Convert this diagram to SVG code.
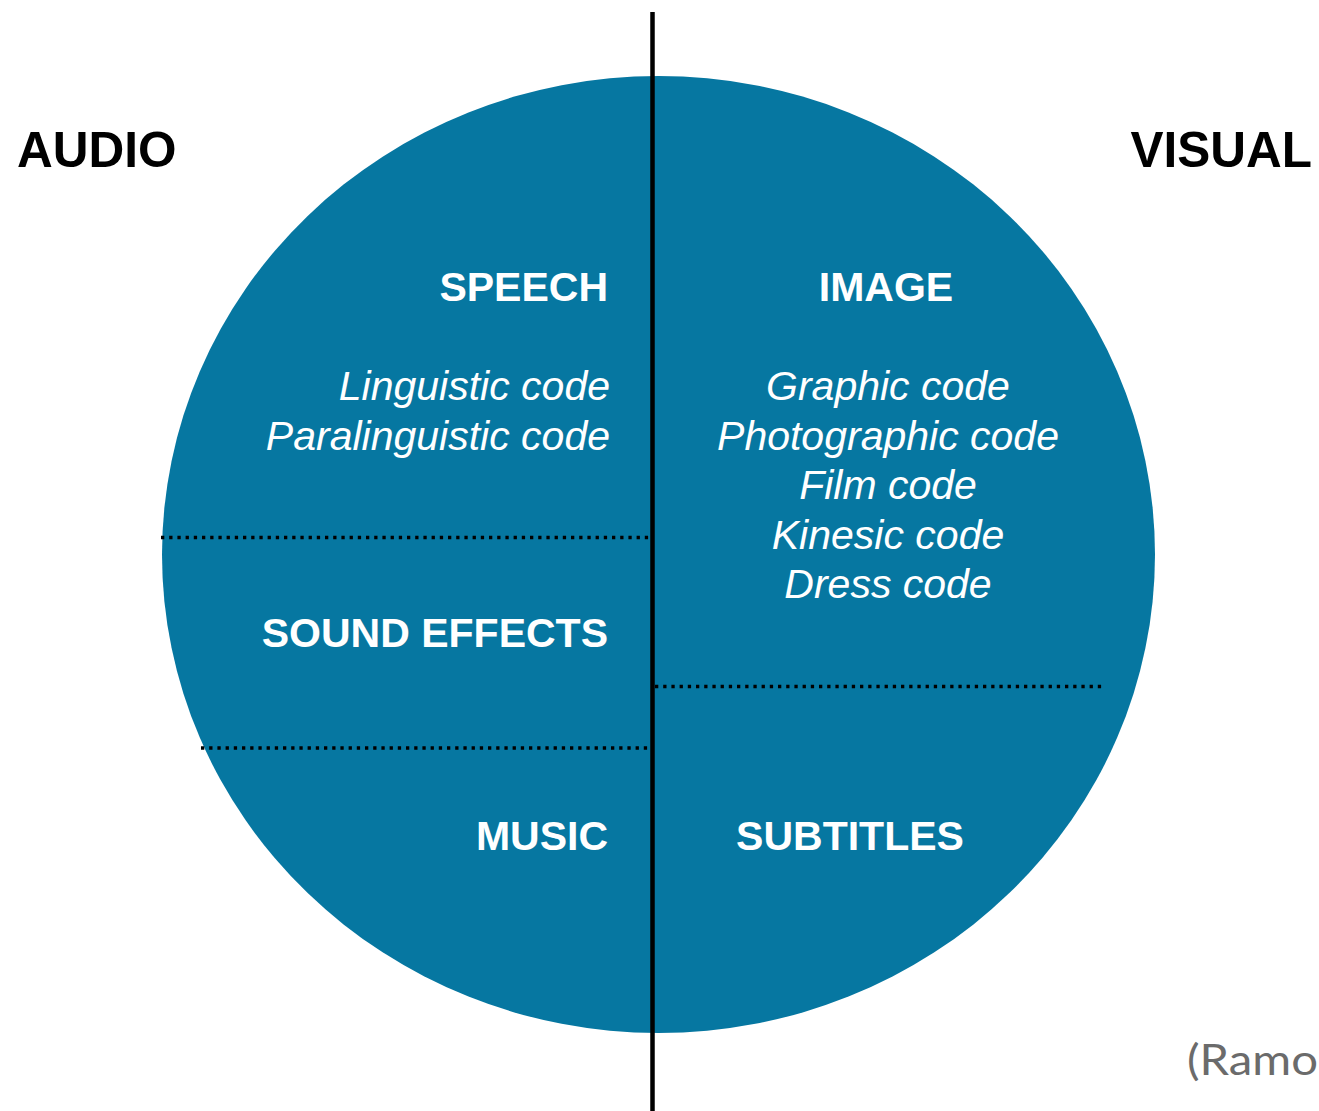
<svg xmlns="http://www.w3.org/2000/svg" width="1319" height="1111" viewBox="0 0 1319 1111">
<style>
.head{font-family:"Liberation Sans",Arial,sans-serif;font-weight:bold;font-size:49.5px;fill:#000}
.lbl{font-family:"Liberation Sans",Arial,sans-serif;font-weight:bold;font-size:41px;fill:#fff}
.code{font-family:"Liberation Sans",Arial,sans-serif;font-style:italic;font-size:41px;fill:#fff}
.dot{stroke:#000;stroke-width:3.3;stroke-dasharray:3.3 4.9;fill:none}
.src{font-family:"Lato","Liberation Sans",sans-serif;font-size:43px;fill:#6b6b6b}
</style>
<rect width="1319" height="1111" fill="#fff"/>
<g id="circle">
<ellipse cx="658.5" cy="554.5" rx="496.5" ry="478.5" fill="#0677a1"/>
</g>
<g id="connectors">
<line class="dot" x1="161" y1="537.5" x2="650" y2="537.5"/>
<line class="dot" x1="201" y1="748" x2="650" y2="748"/>
<line class="dot" x1="655" y1="686.5" x2="1103" y2="686.5"/>
<line x1="652.5" y1="12" x2="652.5" y2="1111" stroke="#000" stroke-width="4.5"/>
</g>
<g id="audio"><text class="head" x="17" y="167">AUDIO</text></g>
<g id="visual"><text class="head" x="1312" y="167" text-anchor="end">VISUAL</text></g>
<g id="speech">
<text class="lbl" x="608" y="301" text-anchor="end">SPEECH</text>
<text class="code" x="610" y="400" text-anchor="end">Linguistic code</text>
<text class="code" x="610" y="450" text-anchor="end">Paralinguistic code</text>
</g>
<g id="image">
<text class="lbl" x="886" y="301" text-anchor="middle">IMAGE</text>
<text class="code" x="888" y="400" text-anchor="middle">Graphic code</text>
<text class="code" x="888" y="450" text-anchor="middle">Photographic code</text>
<text class="code" x="888" y="499" text-anchor="middle">Film code</text>
<text class="code" x="888" y="549" text-anchor="middle">Kinesic code</text>
<text class="code" x="888" y="598" text-anchor="middle">Dress code</text>
</g>
<g id="sound-effects"><text class="lbl" x="608" y="647" text-anchor="end">SOUND EFFECTS</text></g>
<g id="music"><text class="lbl" x="608" y="850" text-anchor="end">MUSIC</text></g>
<g id="subtitles"><text class="lbl" x="850" y="850" text-anchor="middle">SUBTITLES</text></g>
<g id="source"><text class="src" x="1187" y="1075" textLength="131" lengthAdjust="spacingAndGlyphs">(Ramo</text></g>
</svg>
